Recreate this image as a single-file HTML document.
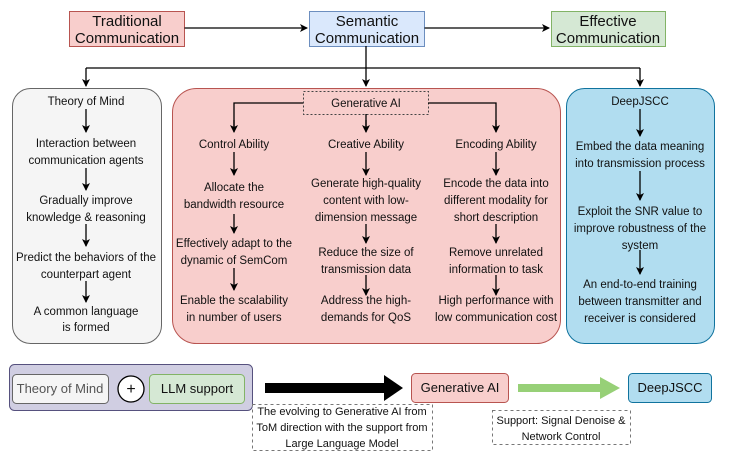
<!DOCTYPE html>
<html><head><style>body{margin:0;background:#fff}svg{display:block}text{font-family:"Liberation Sans",sans-serif;fill:#111}</style></head><body>
<svg width="730" height="462" viewBox="0 0 730 462" xmlns="http://www.w3.org/2000/svg">
<defs><marker id="a" markerWidth="8" markerHeight="8" refX="7" refY="4" orient="auto" markerUnits="userSpaceOnUse"><path d="M0,0L8,4L0,8L2,4z" fill="#000"/></marker></defs>
<g font-size="15" text-anchor="middle">
<rect x="69.5" y="11.5" width="115" height="35" fill="#f8cecc" stroke="#b85450"/>
<text x="127" y="26">Traditional</text><text x="127" y="43">Communication</text>
<rect x="309.5" y="11.5" width="115" height="35" fill="#dae8fc" stroke="#6c8ebf"/>
<text x="367" y="26">Semantic</text><text x="367" y="43">Communication</text>
<rect x="551.5" y="11.5" width="114" height="35" fill="#d5e8d4" stroke="#82b366"/>
<text x="608" y="26">Effective</text><text x="608" y="43">Communication</text>
</g>
<g stroke="#000" stroke-width="1.3" fill="none">
<path d="M184.5 28H307" marker-end="url(#a)"/><path d="M424.5 28H549" marker-end="url(#a)"/>
<path d="M366 46V68M86 68H640"/><path d="M86 68V86" marker-end="url(#a)"/><path d="M366 68V86" marker-end="url(#a)"/><path d="M640 68V86" marker-end="url(#a)"/>
</g>
<rect x="12.5" y="88.5" width="149" height="255" rx="18" fill="#f5f5f5" stroke="#666"/>
<rect x="172.5" y="88.5" width="388" height="255" rx="24" fill="#f8cecc" stroke="#b85450"/>
<rect x="566.5" y="88.5" width="148" height="255" rx="18" fill="#b1ddf0" stroke="#10739e"/>
<rect x="303.5" y="91.5" width="125" height="23" fill="#f8cecc" stroke="#444" stroke-dasharray="2,2"/>
<g stroke="#000" stroke-width="1.3" fill="none">
<path d="M303 103H234V130M428 103H496V130M366 114V130" />
<path d="M234 120V132" marker-end="url(#a)"/><path d="M366 120V132" marker-end="url(#a)"/><path d="M496 120V132" marker-end="url(#a)"/>
<path d="M86 109V132" marker-end="url(#a)"/><path d="M86 168V190" marker-end="url(#a)"/><path d="M86 224V246" marker-end="url(#a)"/><path d="M86 281V302" marker-end="url(#a)"/>
<path d="M234 152V175" marker-end="url(#a)"/><path d="M234 214V233" marker-end="url(#a)"/><path d="M234 268V290" marker-end="url(#a)"/>
<path d="M366 152V175" marker-end="url(#a)"/><path d="M366 224V243" marker-end="url(#a)"/><path d="M366 275V295" marker-end="url(#a)"/>
<path d="M496 152V175" marker-end="url(#a)"/><path d="M496 224V243" marker-end="url(#a)"/><path d="M496 275V295" marker-end="url(#a)"/>
<path d="M640 109V136" marker-end="url(#a)"/><path d="M640 171V200" marker-end="url(#a)"/><path d="M640 250V274" marker-end="url(#a)"/>
</g>
<g font-size="11.5" text-anchor="middle">
<text x="86" y="105">Theory of Mind</text>
<text x="86" y="147">Interaction between</text><text x="86" y="164">communication agents</text>
<text x="86" y="204">Gradually improve</text><text x="86" y="221">knowledge &amp; reasoning</text>
<text x="86" y="261">Predict the behaviors of the</text><text x="86" y="278">counterpart agent</text>
<text x="86" y="315">A common language</text><text x="86" y="331">is formed</text>
<text x="366" y="107">Generative AI</text>
<text x="234" y="148">Control Ability</text>
<text x="234" y="191">Allocate the</text><text x="234" y="208">bandwidth resource</text>
<text x="234" y="247">Effectively adapt to the</text><text x="234" y="264">dynamic of SemCom</text>
<text x="234" y="304">Enable the scalability</text><text x="234" y="321">in number of users</text>
<text x="366" y="148">Creative Ability</text>
<text x="366" y="187">Generate high-quality</text><text x="366" y="204">content with low-</text><text x="366" y="221">dimension message</text>
<text x="366" y="256">Reduce the size of</text><text x="366" y="273">transmission data</text>
<text x="366" y="304">Address the high-</text><text x="366" y="321">demands for QoS</text>
<text x="496" y="148">Encoding Ability</text>
<text x="496" y="187">Encode the data into</text><text x="496" y="204">different modality for</text><text x="496" y="221">short description</text>
<text x="496" y="256">Remove unrelated</text><text x="496" y="273">information to task</text>
<text x="496" y="304">High performance with</text><text x="496" y="321">low communication cost</text>
<text x="640" y="105">DeepJSCC</text>
<text x="640" y="150">Embed the data meaning</text><text x="640" y="167">into transmission process</text>
<text x="640" y="215">Exploit the SNR value to</text><text x="640" y="232">improve robustness of the</text><text x="640" y="249">system</text>
<text x="640" y="288">An end-to-end training</text><text x="640" y="305">between transmitter and</text><text x="640" y="322">receiver is considered</text>
</g>
<rect x="9.5" y="364.5" width="243" height="46" rx="5" fill="#d0cee2" stroke="#56517e"/>
<rect x="12.5" y="374.5" width="96" height="29" rx="4" fill="#f5f5f5" stroke="#666"/>
<circle cx="131" cy="389" r="13" fill="#fff" stroke="#000" stroke-width="1.3"/>
<rect x="149.5" y="374.5" width="95" height="29" rx="4" fill="#d5e8d4" stroke="#82b366"/>
<rect x="411.5" y="373.5" width="97" height="29" rx="4" fill="#f8cecc" stroke="#b85450"/>
<rect x="628.5" y="373.5" width="83" height="29" rx="4" fill="#b1ddf0" stroke="#10739e"/>
<path d="M265 383H384V375L403 388L384 401V393H265Z" fill="#000"/>
<path d="M518 384H600V377L620 388L600 399V392H518Z" fill="#97d077"/>
<rect x="252.5" y="404.5" width="180" height="46" fill="#fff" stroke="#777" stroke-dasharray="3,3"/>
<rect x="492.5" y="410.5" width="138" height="34" fill="#fff" stroke="#777" stroke-dasharray="3,3"/>
<g font-size="13" text-anchor="middle">
<text x="60" y="393" style="fill:#555">Theory of Mind</text>
<text x="131" y="394" font-size="16">+</text>
<text x="197" y="393">LLM support</text>
<text x="460" y="392">Generative AI</text>
<text x="670" y="392">DeepJSCC</text>
</g>
<g font-size="11" text-anchor="middle">
<text x="342" y="415">The evolving to Generative AI from</text>
<text x="342" y="431">ToM direction with the support from</text>
<text x="342" y="447">Large Language Model</text>
<text x="561" y="424">Support: Signal Denoise &amp;</text>
<text x="561" y="440">Network Control</text>
</g>
</svg>
</body></html>
